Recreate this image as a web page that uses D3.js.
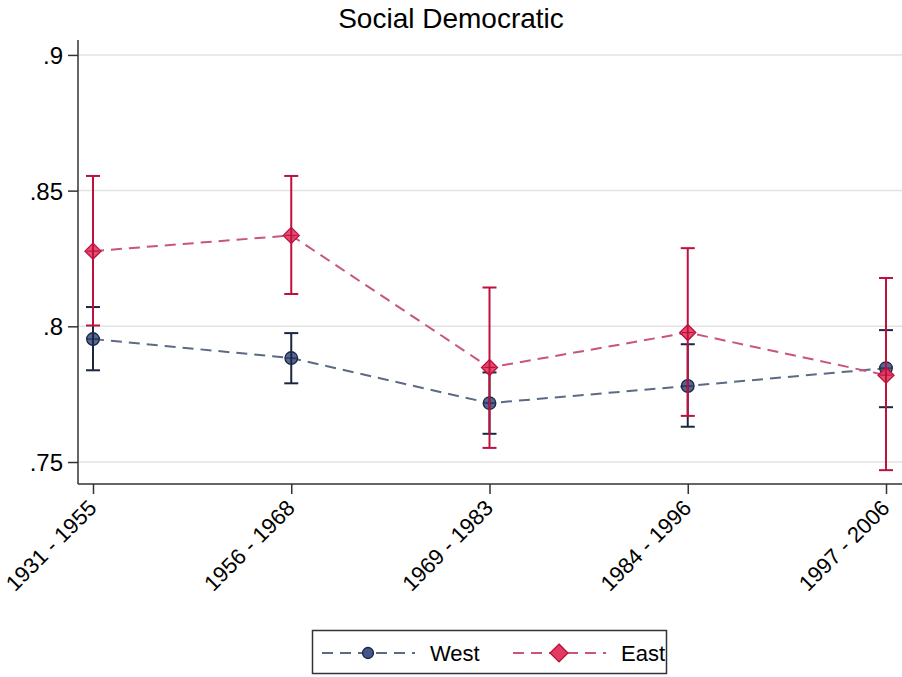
<!DOCTYPE html>
<html>
<head>
<meta charset="utf-8">
<script src="https://cdn.jsdelivr.net/npm/d3@7"></script>
<style>
  body { margin: 0; background: #fff; }
  text { font-family: "Liberation Sans", Arial, sans-serif; fill: #000; }
</style>
</head>
<body>
<div id="chart"></div>
<script>
// periods and estimates
var periods = ["1931 - 1955", "1956 - 1968", "1969 - 1983", "1984 - 1996", "1997 - 2006"];
var yTicks = [0.75, 0.8, 0.85, 0.9];

var westMean = [0.7953, 0.7883, 0.7717, 0.7780, 0.7846];
var westLow  = [0.7838, 0.7790, 0.7604, 0.7630, 0.7702];
var westHigh = [0.8071, 0.7975, 0.7830, 0.7934, 0.7986];

var eastMean = [0.8277, 0.8335, 0.7848, 0.7977, 0.7820];
var eastLow  = [0.8003, 0.8119, 0.7552, 0.7670, 0.7470];
var eastHigh = [0.8554, 0.8554, 0.8143, 0.8288, 0.8178];

var width = 902, height = 677;
var margin = { top: 40, right: 1, bottom: 193, left: 78 };

var svg = d3.select("#chart").append("svg")
    .attr("width", width)
    .attr("height", height);

var x = d3.scalePoint()
    .domain(periods)
    .range([margin.left + 15, width - margin.right - 15]);

var y = d3.scaleLinear()
    .domain([0.7419, 0.9055])
    .range([height - margin.bottom, margin.top]);

// diamond = square turned 45 degrees
function diamond(size) {
    var h = Math.sqrt(size / 2);
    return "M0," + (-h) + "L" + h + ",0L0," + h + "L" + (-h) + ",0Z";
}

// title
svg.append("text")
    .attr("x", 451)
    .attr("y", 28)
    .attr("text-anchor", "middle")
    .attr("font-size", "28px")
    .text("Social Democratic");

// grid
svg.append("g").selectAll("line")
    .data(yTicks)
    .enter().append("line")
    .attr("x1", margin.left)
    .attr("x2", width)
    .attr("y1", function (d) { return y(d); })
    .attr("y2", function (d) { return y(d); })
    .attr("stroke", "#e3e3e3")
    .attr("stroke-width", 1.5);

// axes
var yAxis = svg.append("g")
    .attr("transform", "translate(" + margin.left + ",0)")
    .call(d3.axisLeft(y).tickValues(yTicks).tickSize(10).tickPadding(5)
        .tickFormat(function (d) { return d3.format(".2")(d).replace(/^0/, ""); }));
yAxis.select(".domain").attr("d", "M0," + margin.top + "V" + (height - margin.bottom));

var xAxis = svg.append("g")
    .attr("transform", "translate(0," + (height - margin.bottom) + ")")
    .call(d3.axisBottom(x).tickSize(10).tickSizeOuter(0));
xAxis.select(".domain").attr("d", "M" + margin.left + ",0H" + width);

svg.selectAll(".domain, .tick line").attr("stroke", "#333").attr("stroke-width", 1.5);
yAxis.selectAll("text").attr("font-size", "24px").attr("dy", "0.36em").style("fill", "#000");
xAxis.selectAll("text")
    .attr("font-size", "22px")
    .style("fill", "#000")
    .attr("text-anchor", "end")
    .attr("x", 0)
    .attr("y", 0)
    .attr("dy", "0.35em")
    .attr("transform", "translate(-1,20) rotate(-45)");

var line = d3.line()
    .x(function (d) { return x(d.p); })
    .y(function (d) { return y(d.v); });

function series(mean, low, high, lineColor, barColor, fill, stroke, shape) {
    var data = periods.map(function (p, i) {
        return { p: p, v: mean[i], lo: low[i], hi: high[i] };
    });
    var g = svg.append("g");

    g.append("path")
        .datum(data)
        .attr("d", line)
        .attr("fill", "none")
        .attr("stroke", lineColor)
        .attr("stroke-width", 2)
        .attr("stroke-dasharray", "11,7");

    g.selectAll(".marker")
        .data(data)
        .enter().append("path")
        .attr("class", "marker")
        .attr("transform", function (d) { return "translate(" + x(d.p) + "," + y(d.v) + ")"; })
        .attr("d", shape === "circle" ? d3.symbol().type(d3.symbolCircle).size(125)() : diamond(128))
        .attr("fill", fill)
        .attr("fill-opacity", 0.9)
        .attr("stroke", stroke)
        .attr("stroke-width", 1.3);

    var bars = g.selectAll(".ci")
        .data(data)
        .enter().append("g")
        .attr("class", "ci")
        .attr("stroke", barColor)
        .attr("stroke-width", 2);
    bars.append("line")
        .attr("x1", function (d) { return x(d.p); })
        .attr("x2", function (d) { return x(d.p); })
        .attr("y1", function (d) { return y(d.lo); })
        .attr("y2", function (d) { return y(d.hi); });
    ["lo", "hi"].forEach(function (k) {
        bars.append("line")
            .attr("x1", function (d) { return x(d.p) - 7; })
            .attr("x2", function (d) { return x(d.p) + 7; })
            .attr("y1", function (d) { return y(d[k]); })
            .attr("y2", function (d) { return y(d[k]); });
    });
    // short horizontal stroke through the marker centre
    bars.append("line")
        .attr("x1", function (d) { return x(d.p) - 6; })
        .attr("x2", function (d) { return x(d.p) + 6; })
        .attr("y1", function (d) { return y(d.v); })
        .attr("y2", function (d) { return y(d.v); })
        .attr("stroke-width", 1)
        .attr("stroke", stroke);
}

series(westMean, westLow, westHigh, "#5b6a85", "#1b2640", "#44578a", "#1b2640", "circle");
series(eastMean, eastLow, eastHigh, "#c9557a", "#c0103e", "#e33a62", "#b8103a", "diamond");

// legend
var lg = svg.append("g");
lg.append("rect")
    .attr("x", 312.5).attr("y", 630.5)
    .attr("width", 354).attr("height", 43)
    .attr("fill", "#fff")
    .attr("stroke", "#333")
    .attr("stroke-width", 1.5);

var legendItems = [
    { name: "West", x0: 322, lineColor: "#5b6a85", fill: "#44578a", stroke: "#1b2640", shape: "circle" },
    { name: "East", x0: 513, lineColor: "#c9557a", fill: "#e33a62", stroke: "#b8103a", shape: "diamond" }
];
legendItems.forEach(function (it) {
    lg.append("line")
        .attr("x1", it.x0).attr("x2", it.x0 + 93)
        .attr("y1", 653).attr("y2", 653)
        .attr("stroke", it.lineColor)
        .attr("stroke-width", 2)
        .attr("stroke-dasharray", "11,7");
    lg.append("path")
        .attr("transform", "translate(" + (it.x0 + 46) + ",653)")
        .attr("d", it.shape === "circle" ? d3.symbol().type(d3.symbolCircle).size(95)() : diamond(160))
        .attr("fill", it.fill)
        .attr("stroke", it.stroke)
        .attr("stroke-width", 1.3);
    lg.append("text")
        .attr("x", it.x0 + 108)
        .attr("y", 661)
        .attr("font-size", "22px")
        .text(it.name);
});
</script>
</body>
</html>
